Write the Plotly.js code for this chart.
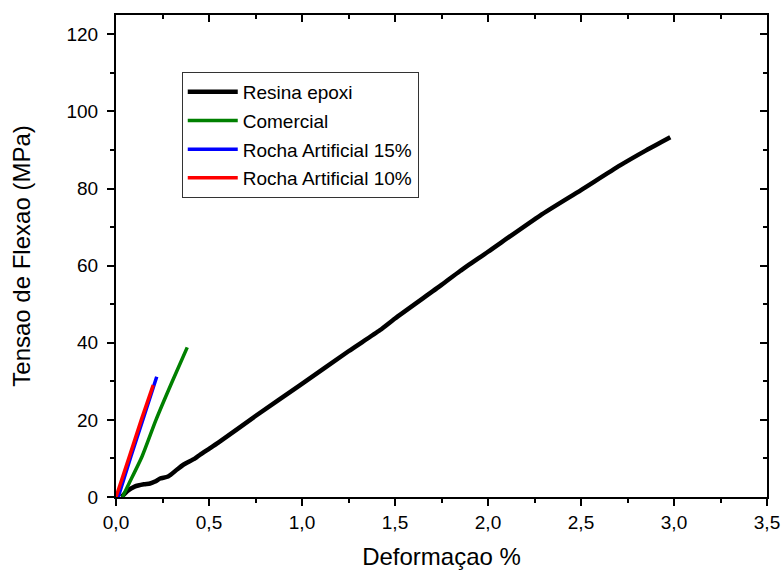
<!DOCTYPE html>
<html>
<head>
<meta charset="utf-8">
<script src="https://cdn.plot.ly/plotly-3.0.1.min.js"></script>
<style>html,body{margin:0;padding:0;background:#fff;}#chart{width:781px;height:570px;}</style>
</head>
<body>
<div id="chart"></div>
<script>
// Resina epoxi
var epoxiX = [0.03, 0.06, 0.1, 0.15, 0.183, 0.21, 0.237, 0.28, 0.33, 0.36, 0.425, 0.45, 0.5, 0.55, 0.75, 0.99, 1.25, 1.42, 1.5, 1.75, 1.85, 2.0, 2.28, 2.5, 2.71, 2.85, 2.98];
var epoxiY = [0.0, 1.5, 2.7, 3.3, 3.5, 4.0, 4.8, 5.3, 7.2, 8.3, 10.0, 10.9, 12.5, 14.1, 21.0, 29.0, 37.8, 43.3, 46.3, 55.0, 58.6, 63.6, 73.0, 79.6, 86.0, 89.9, 93.3];
// Comercial
var comX = [0.035, 0.07, 0.14, 0.215, 0.3, 0.383];
var comY = [0.0, 3.5, 10.5, 20.0, 29.7, 38.8];
// Rocha Artificial 15%
var r15X = [0.012, 0.08, 0.144, 0.219];
var r15Y = [0.0, 10.5, 20.0, 31.2];
// Rocha Artificial 10%
var r10X = [0.0, 0.07, 0.136, 0.2];
var r10Y = [0.0, 10.2, 20.0, 29.0];

var names = ['Resina epoxi', 'Comercial', 'Rocha Artificial 15%', 'Rocha Artificial 10%'];
var colors = ['#000000', '#008000', '#0000ff', '#ff0000'];
var xs = [epoxiX, comX, r15X, r10X];
var ys = [epoxiY, comY, r15Y, r10Y];
var widths = [4.5, 3.5, 3.5, 3.5];

var traces = [];
for (var i = 0; i < names.length; i++) {
  traces.push({
    x: xs[i], y: ys[i], name: names[i], type: 'scatter', mode: 'lines',
    line: {color: colors[i], width: widths[i], shape: 'spline', smoothing: 0.6}, legendgroup: 'g' + i
  });
}
traces.push({x: [], y: [], xaxis: 'x2', yaxis: 'y2', showlegend: false, hoverinfo: 'skip', type: 'scatter', mode: 'lines'});

var fontFam = 'Liberation Sans, Arial, sans-serif';
var layout = {
  width: 781, height: 570,
  margin: {l: 116, r: 14, t: 15, b: 73},
  paper_bgcolor: '#fff', plot_bgcolor: '#fff',
  separators: ',.',
  font: {family: fontFam, color: '#000'},
  showlegend: true,
  legend: {
    x: 0.101, y: 0.882, xanchor: 'left', yanchor: 'top',
    bordercolor: '#333', borderwidth: 1, bgcolor: '#fff',
    font: {size: 19, family: fontFam, color: '#000'},
    traceorder: 'grouped', tracegroupgap: 1, itemwidth: 50
  },
  xaxis: {
    range: [0, 3.5], dtick: 0.5, tick0: 0, tickformat: '.1f',
    showgrid: false, zeroline: false, showline: true, linecolor: '#000', linewidth: 2,
    ticks: 'outside', ticklen: 7, tickwidth: 2, tickcolor: '#000',
    minor: {dtick: 0.25, ticks: 'outside', ticklen: 4, tickwidth: 2, tickcolor: '#000'},
    tickfont: {size: 19, family: fontFam, color: '#000'},
    title: {text: 'Deformaçao %', font: {size: 24, family: fontFam, color: '#000'}, standoff: 16},
    automargin: false
  },
  yaxis: {
    range: [0, 125], dtick: 20, tick0: 0,
    showgrid: false, zeroline: false, showline: true, linecolor: '#000', linewidth: 2,
    ticks: 'outside', ticklen: 7, tickwidth: 2, tickcolor: '#000', ticklabelstandoff: 5,
    minor: {dtick: 10, ticks: 'outside', ticklen: 4, tickwidth: 2, tickcolor: '#000'},
    tickfont: {size: 19, family: fontFam, color: '#000'},
    title: {text: 'Tensao de Flexao (MPa)', font: {size: 24, family: fontFam, color: '#000'}, standoff: 29},
    automargin: false
  },
  xaxis2: {
    overlaying: 'x', side: 'top', anchor: 'y', range: [0, 3.5], dtick: 0.5, tick0: 0,
    showgrid: false, zeroline: false, showline: true, linecolor: '#000', linewidth: 2,
    ticks: 'inside', ticklen: 7, tickwidth: 2, tickcolor: '#000', showticklabels: false,
    minor: {dtick: 0.25, ticks: 'inside', ticklen: 4, tickwidth: 2, tickcolor: '#000'}
  },
  yaxis2: {
    overlaying: 'y', side: 'right', anchor: 'x', range: [0, 125], dtick: 20, tick0: 0,
    showgrid: false, zeroline: false, showline: true, linecolor: '#000', linewidth: 2,
    ticks: 'inside', ticklen: 7, tickwidth: 2, tickcolor: '#000', showticklabels: false,
    minor: {dtick: 10, ticks: 'inside', ticklen: 4, tickwidth: 2, tickcolor: '#000'}
  }
};

Plotly.newPlot('chart', traces, layout, {displayModeBar: false, staticPlot: true});
</script>
</body>
</html>
